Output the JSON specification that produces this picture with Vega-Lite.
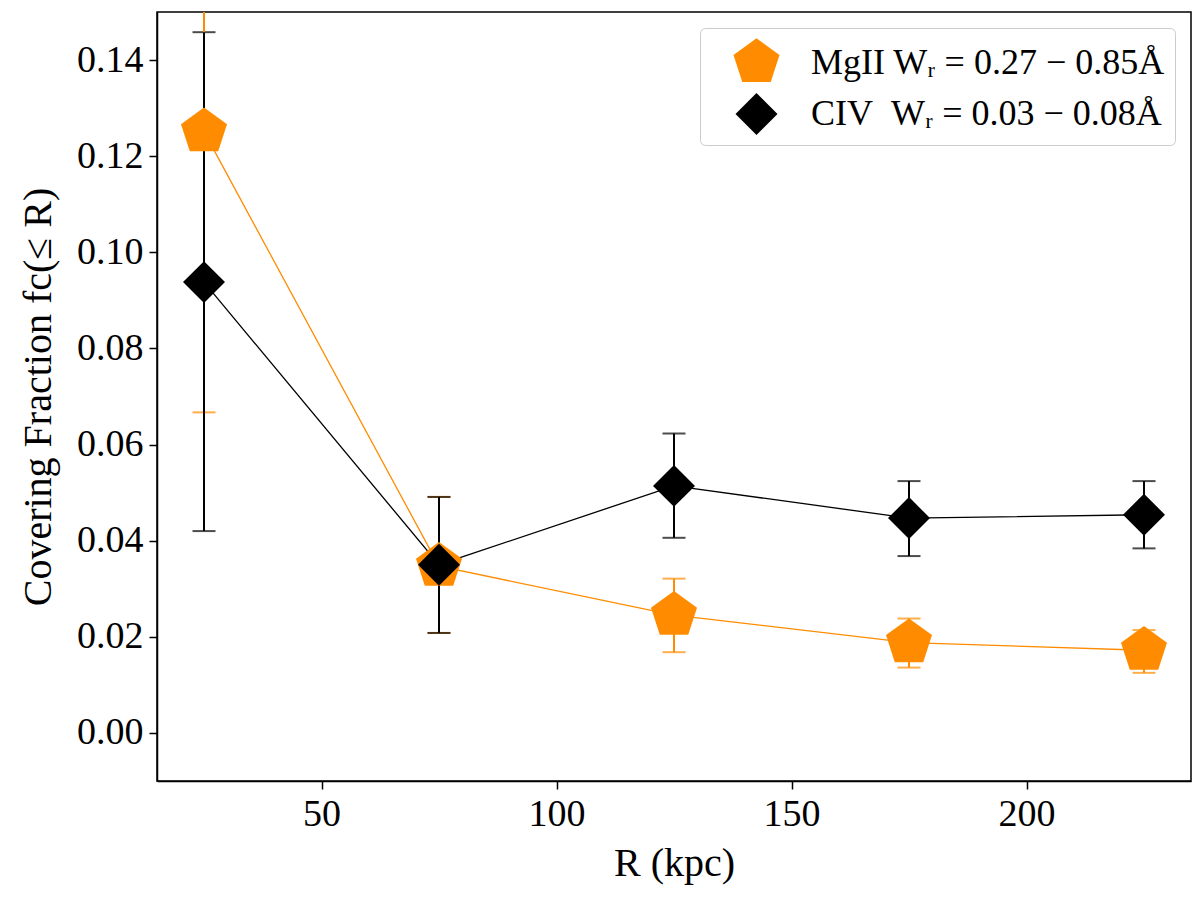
{
  "$schema": "https://vega.github.io/schema/vega-lite/v6.json",
  "width": 1034,
  "height": 769,
  "autosize": {"type": "none"},
  "padding": {"left": 157, "top": 12, "right": 9, "bottom": 126},
  "background": "white",
  "data": {
    "values": [
      {"series": "MgII", "R": 25, "fc": 0.1251, "lo": 0.0667, "hi": 0.1835},
      {"series": "MgII", "R": 75, "fc": 0.0347, "lo": 0.0208, "hi": 0.0491},
      {"series": "MgII", "R": 125, "fc": 0.0245, "lo": 0.0168, "hi": 0.0321},
      {"series": "MgII", "R": 175, "fc": 0.0188, "lo": 0.0136, "hi": 0.0238},
      {"series": "MgII", "R": 225, "fc": 0.0172, "lo": 0.0125, "hi": 0.0214},
      {"series": "CIV", "R": 25, "fc": 0.0938, "lo": 0.042, "hi": 0.1458},
      {"series": "CIV", "R": 75, "fc": 0.035, "lo": 0.0208, "hi": 0.0491},
      {"series": "CIV", "R": 125, "fc": 0.0514, "lo": 0.0406, "hi": 0.0623},
      {"series": "CIV", "R": 175, "fc": 0.0447, "lo": 0.0368, "hi": 0.0524},
      {"series": "CIV", "R": 225, "fc": 0.0454, "lo": 0.0384, "hi": 0.0524}
    ]
  },
  "encoding": {
    "x": {
      "field": "R",
      "type": "quantitative",
      "scale": {"domain": [15, 235], "nice": false, "zero": false},
      "axis": {"values": [50, 100, 150, 200], "title": "R (kpc)", "titlePadding": 10}
    },
    "color": {
      "field": "series",
      "type": "nominal",
      "scale": {"domain": ["MgII", "CIV"], "range": ["#ff8c00", "#000000"]},
      "legend": {
        "title": null,
        "orient": "top-right",
        "offset": 16,
        "padding": 10,
        "strokeColor": "#cccccc",
        "fillColor": "white",
        "cornerRadius": 5,
        "symbolOpacity": 1,
        "symbolStrokeWidth": 0,
        "symbolOffset": 22,
        "labelOffset": 30,
        "rowPadding": 10,
        "labelFontSize": 36,
        "labelFont": "Liberation Serif",
        "labelColor": "black",
        "labelLimit": 500,
        "labelExpr": "datum.value == 'MgII' ? 'MgII Wᵣ = 0.27 − 0.85Å' : 'CIV\u00a0\u00a0Wᵣ = 0.03 − 0.08Å'"
      }
    }
  },
  "layer": [
    {
      "mark": {"type": "errorbar", "clip": true, "thickness": 2, "ticks": {"size": 23, "thickness": 2}},
      "encoding": {
        "y": {
          "field": "lo",
          "type": "quantitative",
          "scale": {"domain": [-0.01, 0.15], "nice": false},
          "axis": {
            "values": [0, 0.02, 0.04, 0.06, 0.08, 0.1, 0.12, 0.14],
            "format": ".2f",
            "title": "Covering Fraction fc(≤ R)",
            "titlePadding": 18
          }
        },
        "y2": {"field": "hi"}
      }
    },
    {
      "mark": {"type": "line", "strokeWidth": 1.3, "clip": true},
      "encoding": {
        "y": {"field": "fc", "type": "quantitative"},
        "detail": {"field": "series"}
      }
    },
    {
      "mark": {"type": "point", "filled": true, "opacity": 1, "strokeWidth": 0},
      "encoding": {
        "y": {"field": "fc", "type": "quantitative"},
        "shape": {
          "field": "series",
          "type": "nominal",
          "scale": {
            "domain": ["MgII", "CIV"],
            "range": ["M0,-1L0.951,-0.309L0.588,0.809L-0.588,0.809L-0.951,-0.309Z", "diamond"]
          }
        },
        "size": {
          "field": "series",
          "type": "nominal",
          "scale": {"domain": ["MgII", "CIV"], "range": [2340, 1760]}
        }
      }
    }
  ],
  "config": {
    "font": "Liberation Serif",
    "view": {"stroke": "black", "strokeWidth": 1.5},
    "axis": {
      "grid": false,
      "domainColor": "black",
      "domainWidth": 1.5,
      "tickColor": "black",
      "tickWidth": 1.5,
      "tickSize": 8,
      "labelFont": "Liberation Serif",
      "labelFontSize": 38,
      "labelColor": "black",
      "labelPadding": 6,
      "titleFont": "Liberation Serif",
      "titleFontSize": 40,
      "titleFontWeight": "normal",
      "titleColor": "black"
    }
  }
}
